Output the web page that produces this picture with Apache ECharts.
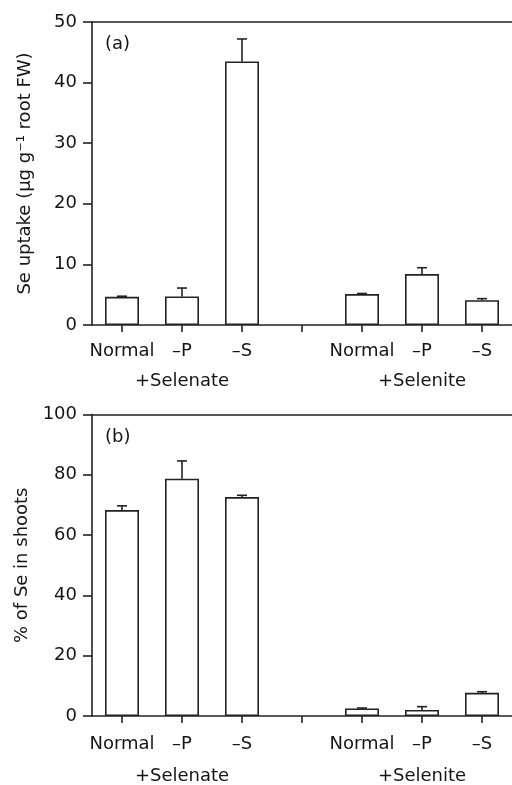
<!DOCTYPE html>
<html>
<head>
<meta charset="utf-8">
<script src="https://cdn.jsdelivr.net/npm/echarts@6/dist/echarts.min.js"></script>
<style>
html,body{margin:0;padding:0;background:#fff;}
#chart{width:512px;height:785px;}
</style>
</head>
<body>
<div id="chart"></div>
<script>
// ---- data ----
var categories = ['Normal', '–P', '–S', '', 'Normal', '–P', '–S'];
var groupLabels = ['', '+Selenate', '', '', '', '+Selenite', ''];
var uptakeMeans = [4.65, 4.7, 43.5, null, 5.1, 8.4, 4.1];
var uptakeErr = [0.1, 1.4, 3.7, null, 0.1, 1.05, 0.25];
var shootMeans = [68.3, 78.7, 72.6, null, 2.5, 2.0, 7.7];
var shootErr = [1.4, 5.9, 0.6, null, 0.15, 1.1, 0.35];
var uptakeTicks = {min: 0, max: 50, interval: 10};
var shootTicks = {min: 0, max: 100, interval: 20};

var FONT = 'DejaVu Sans';
var INK = '#151515';
var LINE = '#222222';
var LW = 1.6;

var chart = echarts.init(document.getElementById('chart'), null, {renderer: 'canvas'});

function errData(means, errs) {
  var out = [];
  for (var i = 0; i < means.length; i++) {
    if (means[i] == null) continue;
    out.push([i, means[i], means[i] + errs[i]]);
  }
  return out;
}

function errRender(params, api) {
  var x = api.value(0);
  var p0 = api.coord([x, api.value(1)]);
  var p1 = api.coord([x, api.value(2)]);
  var hw = 5;
  var st = {stroke: LINE, lineWidth: LW};
  return {
    type: 'group',
    children: [
      {type: 'line', shape: {x1: p0[0], y1: p0[1], x2: p1[0], y2: p1[1]}, style: st},
      {type: 'line', shape: {x1: p1[0] - hw, y1: p1[1], x2: p1[0] + hw, y2: p1[1]}, style: st}
    ]
  };
}

var grids = [
  {left: 92, top: 22, right: 0, height: 303, show: false},
  {left: 92, top: 414.5, right: 0, height: 303, show: false}
];

function catAxis(gi, margin) {
  return {
    type: 'category', gridIndex: gi, data: categories, position: 'bottom',
    axisLine: {show: true, lineStyle: {color: LINE, width: LW}},
    axisTick: {show: true, alignWithLabel: true, length: 7, lineStyle: {color: LINE, width: LW}},
    axisLabel: {show: true, interval: 0, margin: margin, fontFamily: FONT, fontSize: 18, color: INK},
    splitLine: {show: false}
  };
}
function groupAxis(gi, margin) {
  return {
    type: 'category', gridIndex: gi, data: groupLabels, position: 'bottom',
    axisLine: {show: false}, axisTick: {show: false},
    axisLabel: {show: true, interval: 0, margin: margin, fontFamily: FONT, fontSize: 18, color: INK},
    splitLine: {show: false}
  };
}
function topAxis(gi) {
  return {
    type: 'category', gridIndex: gi, data: categories, position: 'top',
    axisLine: {show: true, lineStyle: {color: LINE, width: LW}},
    axisTick: {show: false}, axisLabel: {show: false}, splitLine: {show: false}
  };
}
function valAxis(gi, t, name) {
  return {
    type: 'value', gridIndex: gi, min: t.min, max: t.max, interval: t.interval,
    name: name, nameLocation: 'middle', nameGap: 58, nameRotate: 90,
    nameTextStyle: {fontFamily: FONT, fontSize: 18, color: INK},
    axisLine: {show: true, lineStyle: {color: LINE, width: LW}},
    axisTick: {show: true, length: 9, lineStyle: {color: LINE, width: LW}},
    axisLabel: {margin: 15, fontFamily: FONT, fontSize: 18, color: INK},
    splitLine: {show: false}
  };
}

var barStyle = {color: '#ffffff', borderColor: LINE, borderWidth: LW};

var option = {
  animation: false,
  backgroundColor: '#ffffff',
  grid: grids,
  xAxis: [catAxis(0, 17.5), groupAxis(0, 47), topAxis(0), catAxis(1, 19.5), groupAxis(1, 51), topAxis(1)],
  yAxis: [
    valAxis(0, uptakeTicks, 'Se uptake (µg g⁻¹ root FW)'),
    valAxis(1, shootTicks, '% of Se in shoots')
  ],
  graphic: [
    {type: 'text', left: 105, top: 35, style: {text: '(a)', font: '18px "' + FONT + '"', fill: INK}},
    {type: 'text', left: 105, top: 428, style: {text: '(b)', font: '18px "' + FONT + '"', fill: INK}}
  ],
  series: [
    {type: 'bar', xAxisIndex: 0, yAxisIndex: 0, data: uptakeMeans, barWidth: 34, itemStyle: barStyle, z: 2},
    {type: 'custom', xAxisIndex: 0, yAxisIndex: 0, data: errData(uptakeMeans, uptakeErr), renderItem: errRender, z: 3},
    {type: 'bar', xAxisIndex: 3, yAxisIndex: 1, data: shootMeans, barWidth: 34, itemStyle: barStyle, z: 2},
    {type: 'custom', xAxisIndex: 3, yAxisIndex: 1, data: errData(shootMeans, shootErr), renderItem: errRender, z: 3}
  ]
};
chart.setOption(option);
</script>
</body>
</html>
